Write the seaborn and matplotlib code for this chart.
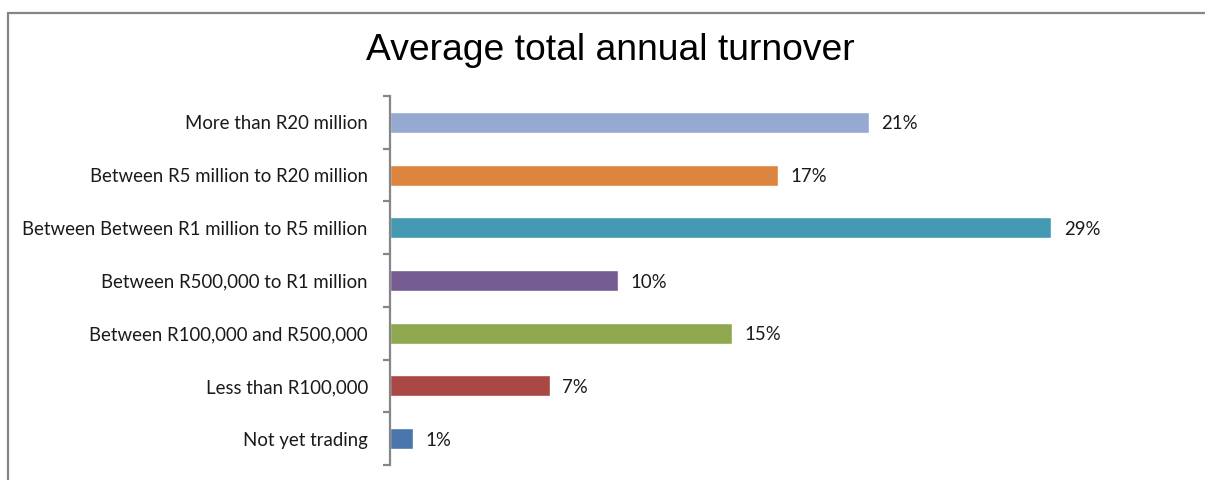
import matplotlib
matplotlib.use("Agg")
import matplotlib.pyplot as plt
from matplotlib.patches import Rectangle
from matplotlib.ticker import FixedLocator
import seaborn as sns
import pandas as pd

categories = [
    "More than R20 million",
    "Between R5 million to R20 million",
    "Between Between R1 million to R5 million",
    "Between R500,000 to R1 million",
    "Between R100,000 and R500,000",
    "Less than R100,000",
    "Not yet trading",
]
shares = [0.21, 0.17, 0.29, 0.10, 0.15, 0.07, 0.01]
bar_colors = ["#95A9D1", "#DD853F", "#4299B1", "#745B92", "#8FA84F", "#A94845", "#4A75AD"]

df = pd.DataFrame({"category": categories, "share": shares})

sns.set_theme(style="white")
plt.rcParams["font.family"] = ["Lato", "DejaVu Sans"]

fig = plt.figure(figsize=(12.05, 4.8), dpi=100)
ax = fig.add_axes([390 / 1205, 15 / 480, 798 / 1205, 369 / 480])

sns.barplot(data=df, y="category", x="share", hue="category",
            palette=bar_colors, orient="h", width=0.40, legend=False,
            saturation=1, ax=ax)

ax.set_xlim(0, 0.35)
ax.set_ylim(len(categories) - 0.5, -0.5)
ax.set_xlabel("")
ax.set_ylabel("")
ax.set_xticks([])

for s in ["top", "right", "bottom"]:
    ax.spines[s].set_visible(False)
ax.spines["left"].set_color("#868686")
ax.spines["left"].set_linewidth(1.6)

ax.yaxis.set_major_locator(FixedLocator(range(len(categories))))
ax.set_yticklabels(categories, fontsize=13.4, color="#1a1a1a")
for lbl in ax.get_yticklabels():
    lbl.set_verticalalignment("center_baseline")
ax.yaxis.set_minor_locator(FixedLocator([i - 0.5 for i in range(len(categories) + 1)]))
ax.tick_params(axis="y", which="major", length=0, pad=16)
ax.tick_params(axis="y", which="minor", length=5, width=1.6, color="#868686", left=True)

for i, v in enumerate(shares):
    ax.text(v + 0.0055, i, f"{round(v * 100)}%", va="center_baseline", ha="left",
            fontsize=13.4, color="#1a1a1a")

fig.text(610 / 1205, 1 - 50 / 480, "Average total annual turnover",
         ha="center", va="center", fontsize=26.8, color="black",
         family=["Liberation Sans", "DejaVu Sans"])

fig.patches.append(Rectangle((8 / 1205, -0.1), 1.2, 1 - 13 / 480 + 0.1,
                             transform=fig.transFigure, fill=False,
                             edgecolor="#858585", linewidth=1.6))

fig.savefig("out.png", dpi=100)
